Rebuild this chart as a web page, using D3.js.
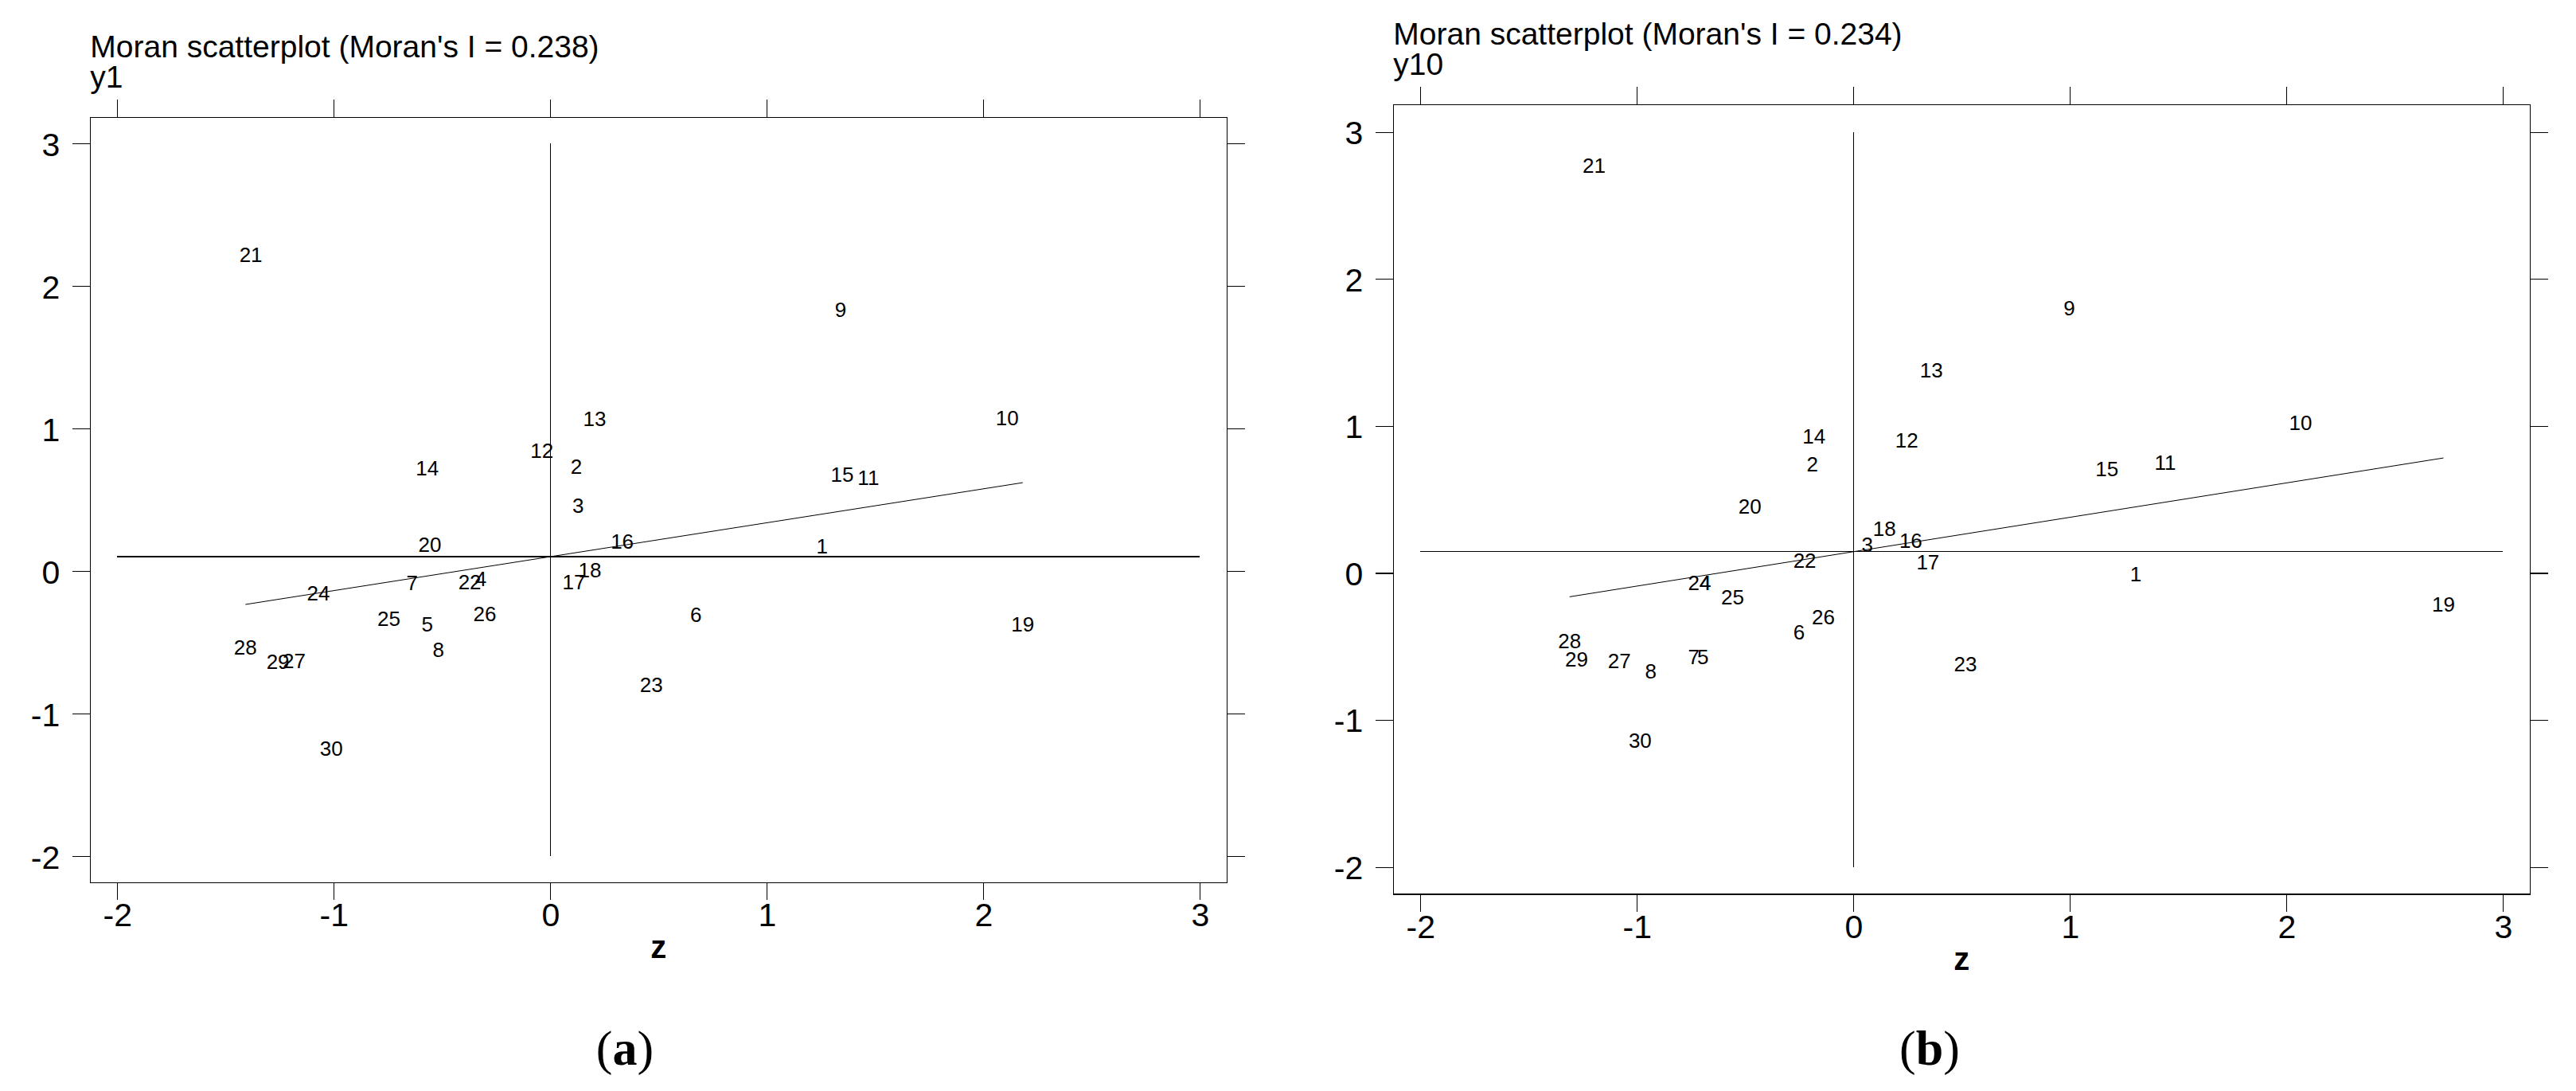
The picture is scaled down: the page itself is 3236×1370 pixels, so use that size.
<!DOCTYPE html>
<html>
<head>
<meta charset="utf-8">
<script src="https://cdn.jsdelivr.net/npm/d3@7"></script>
<style>
  html, body { margin: 0; padding: 0; background: #fff; }
  svg { display: block; }
</style>
</head>
<body>
<script>
// ---------- data ----------
const ids = [1,2,3,4,5,6,7,8,9,10,11,12,13,14,15,16,17,18,19,20,21,22,23,24,25,26,27,28,29,30];

// panel (a): y1
const zA  = [1.255, 0.120, 0.128, -0.321, -0.568, 0.673, -0.638, -0.517, 1.341, 2.110,
             1.469, -0.039, 0.205, -0.568, 1.348, 0.332, 0.109, 0.183, 2.182, -0.556,
             -1.383, -0.372, 0.467, -1.071, -0.746, -0.303, -1.183, -1.408, -1.258, -1.011];
const wzA = [0.176, 0.734, 0.460, -0.053, -0.369, -0.304, -0.080, -0.550, 1.834, 1.077,
             0.660, 0.845, 1.072, 0.726, 0.678, 0.208, -0.075, 0.009, -0.373, 0.186,
             2.223, -0.075, -0.797, -0.155, -0.332, -0.298, -0.627, -0.530, -0.632, -1.240];

// panel (b): y10
const zB  = [1.304, -0.190, 0.064, -0.685, -0.695, -0.251, -0.737, -0.936, 0.997, 2.065,
             1.440, 0.246, 0.360, -0.182, 1.171, 0.265, 0.344, 0.143, 2.725, -0.478,
             -1.198, -0.225, 0.517, -0.711, -0.558, -0.139, -1.081, -1.311, -1.279, -0.985];
const wzB = [-0.005, 0.744, 0.193, -0.063, -0.572, -0.401, -0.572, -0.666, 1.802, 1.024,
             0.751, 0.903, 1.379, 0.932, 0.709, 0.222, 0.077, 0.305, -0.211, 0.456,
             2.774, 0.087, -0.617, -0.068, -0.161, -0.296, -0.594, -0.459, -0.584, -1.139];

const moranI   = [0.238, 0.234];   // slope of the fitted line
const lagMean  = [0.102, 0.145];   // mean of spatial lag (horizontal reference line)
const varNames = ["y1", "y10"];
const tags     = ["a", "b"];
const xTicks   = [-2, -1, 0, 1, 2, 3];
const yTicks   = [-2, -1, 0, 1, 2, 3];
const xLabel   = "z";

// ---------- drawing ----------
const W = 3236, H = 1370;
const SANS = "'Liberation Sans', Arial, Helvetica, sans-serif";
const SERIF = "'Liberation Serif', 'Times New Roman', serif";

const svg = d3.select("body").append("svg")
  .attr("width", W).attr("height", H)
  .attr("viewBox", `0 0 ${W} ${H}`);
svg.append("rect").attr("width", W).attr("height", H).attr("fill", "#fff");

const layouts = [
  { fx0: 113.3, fx1: 1541.3, fy0: 147.3, fy1: 1108.3, padX: 34, padY: 33,   tagX: 785 },
  { fx0: 1750.3, fx1: 3178.3, fy0: 131.3, fy1: 1123.2, padX: 34, padY: 34.5, tagX: 2424 }
];
const series = [ { z: zA, wz: wzA }, { z: zB, wz: wzB } ];

layouts.forEach((L, i) => {
  const z = series[i].z, wz = series[i].wz;
  const I = moranI[i], m = lagMean[i];

  const x = d3.scaleLinear()
    .domain([xTicks[0], xTicks[xTicks.length - 1]])
    .range([L.fx0 + L.padX, L.fx1 - L.padX]);
  const y = d3.scaleLinear()
    .domain([yTicks[0], yTicks[yTicks.length - 1]])
    .range([L.fy1 - L.padY, L.fy0 + L.padY]);

  const g = svg.append("g");

  // titles
  g.append("text")
    .attr("x", L.fx0).attr("y", L.fy0 - 75.6)
    .attr("font-family", SANS).attr("font-size", 39)
    .text(`Moran scatterplot (Moran's I = ${I.toFixed(3)})`);
  g.append("text")
    .attr("x", L.fx0).attr("y", L.fy0 - 37.3)
    .attr("font-family", SANS).attr("font-size", 39)
    .text(varNames[i]);

  // axes
  const fmt = d => String(d);
  const styleAxis = sel => {
    sel.select(".domain").remove();
    sel.selectAll(".tick line").attr("stroke", "#000").attr("stroke-width", 1.2)
      .attr("shape-rendering", "crispEdges");
    sel.selectAll(".tick text").attr("fill", "#000")
      .attr("font-family", SANS).attr("font-size", 41);
  };

  g.append("g").attr("transform", `translate(${L.fx0},0)`)
    .call(d3.axisLeft(y).tickValues(yTicks).tickFormat(fmt).tickSize(22).tickPadding(16))
    .call(styleAxis)
    .call(s => s.selectAll(".tick text").attr("dy", "0.36em"));

  g.append("g").attr("transform", `translate(${L.fx1},0)`)
    .call(d3.axisRight(y).tickValues(yTicks).tickFormat("").tickSize(23))
    .call(styleAxis);

  g.append("g").attr("transform", `translate(0,${L.fy0})`)
    .call(d3.axisTop(x).tickValues(xTicks).tickFormat("").tickSize(22))
    .call(styleAxis);

  g.append("g").attr("transform", `translate(0,${L.fy1})`)
    .call(d3.axisBottom(x).tickValues(xTicks).tickFormat(fmt).tickSize(22).tickPadding(4))
    .call(styleAxis);

  // frame
  g.append("rect")
    .attr("x", L.fx0).attr("y", L.fy0)
    .attr("width", L.fx1 - L.fx0).attr("height", L.fy1 - L.fy0)
    .attr("fill", "none").attr("stroke", "#000").attr("stroke-width", 1.6)
    .attr("shape-rendering", "crispEdges");

  // reference lines
  g.append("line")
    .attr("x1", x(0)).attr("x2", x(0))
    .attr("y1", y(yTicks[0])).attr("y2", y(yTicks[yTicks.length - 1]))
    .attr("stroke", "#000").attr("stroke-width", 1.1).attr("shape-rendering", "crispEdges");
  g.append("line")
    .attr("x1", x(xTicks[0])).attr("x2", x(xTicks[xTicks.length - 1]))
    .attr("y1", y(m)).attr("y2", y(m))
    .attr("stroke", "#000").attr("stroke-width", 1.1).attr("shape-rendering", "crispEdges");

  // fitted line
  const [zMin, zMax] = d3.extent(z);
  g.append("line")
    .attr("x1", x(zMin)).attr("y1", y(m + I * zMin))
    .attr("x2", x(zMax)).attr("y2", y(m + I * zMax))
    .attr("stroke", "#000").attr("stroke-width", 1);

  // point labels
  g.append("g").selectAll("text")
    .data(ids.map((id, k) => ({ id, z: z[k], wz: wz[k] })))
    .join("text")
    .attr("x", d => x(d.z)).attr("y", d => y(d.wz))
    .attr("dy", "0.36em")
    .attr("text-anchor", "middle")
    .attr("font-family", SANS).attr("font-size", 26)
    .text(d => d.id);

  // x axis title
  g.append("text")
    .attr("x", (L.fx0 + L.fx1) / 2).attr("y", L.fy1 + 94.4)
    .attr("text-anchor", "middle")
    .attr("font-family", SANS).attr("font-size", 40).attr("font-weight", "bold")
    .text(xLabel);

  // panel tag
  const t = g.append("text")
    .attr("x", L.tagX).attr("y", 1337)
    .attr("text-anchor", "middle")
    .attr("font-family", SERIF).attr("font-size", 62);
  t.append("tspan").text("(");
  t.append("tspan").attr("font-weight", "bold").text(tags[i]);
  t.append("tspan").text(")");
});
</script>
</body>
</html>
